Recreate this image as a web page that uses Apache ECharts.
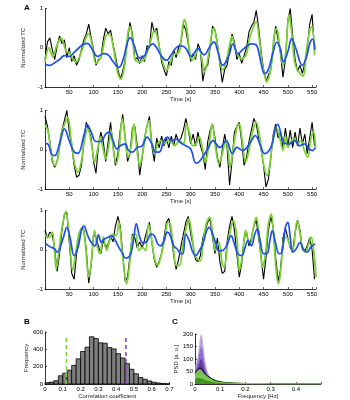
<!DOCTYPE html>
<html>
<head>
<meta charset="utf-8">
<script src="https://cdn.jsdelivr.net/npm/echarts@6/dist/echarts.min.js"></script>
<style>
html, body { margin: 0; padding: 0; background: #fff; }
#chart { width: 350px; height: 400px; }
</style>
</head>
<body>
<div id="chart"></div>
<script>
// ---- panel A: time courses (black = raw, green = filtered, blue = model) ----
var blackStep = 5;   // black traces sampled every 5 s from t = 0
var black1 = [-0.3,0.15,0.25,-0.05,-0.3,0.05,0.3,0.1,0.2,-0.25,0.0,-0.35,-0.2,-0.45,-0.3,-0.05,0.2,0.35,0.6,0.25,
  -0.05,-0.45,-0.3,-0.25,0.2,0.5,0.35,0.45,0.1,-0.2,-0.55,-0.8,-0.6,-0.3,0.2,0.65,0.35,-0.3,-0.25,-0.4,
  -0.2,-0.35,0.05,0.0,0.65,0.4,0.5,0.05,-0.35,-0.55,-0.72,-0.35,-0.45,-0.05,-0.25,0.0,0.15,0.6,0.45,0.1,
  -0.35,-0.15,-0.3,0.1,-0.05,-0.85,-0.5,-0.45,0.0,0.55,0.45,0.1,-0.4,-0.88,-0.55,-0.45,-0.05,0.35,0.15,-0.3,
  -0.15,-0.4,-0.2,0.0,0.4,0.55,0.65,0.95,0.5,-0.1,-0.55,-0.85,-0.7,-0.55,0.05,0.55,0.2,-0.15,-0.75,-0.3,
  0.7,1.0,0.3,-0.3,-0.6,-0.45,-0.65,-0.4,0.0,0.6,0.85,-0.1];
var green1 = [[0,-0.36],[8,0.0],[16,-0.23],[24,0.05],[33,0.25],[44,-0.1],[50,-0.12],[57,-0.28],[64,-0.36],[75,-0.1],
  [85,0.28],[90,0.36],[97,0.06],[105,-0.4],[116,-0.2],[126,0.32],[133,0.34],[141,-0.02],[150,-0.66],[156,-0.8],
  [164,-0.45],[171,0.4],[175,0.53],[181,0.15],[186,-0.32],[195,-0.36],[205,-0.28],[215,0.06],[226,0.45],[232,0.23],
  [239,-0.2],[250,-0.57],[256,-0.45],[263,-0.2],[270,-0.15],[277,-0.1],[282,0.4],[287,0.72],[291,0.57],[298,-0.1],
  [303,-0.32],[308,-0.25],[315,-0.02],[320,-0.1],[329,-0.62],[335,-0.3],[342,0.23],[347,0.49],[352,0.32],[359,-0.28],
  [366,-0.57],[373,-0.36],[380,0.06],[385,0.29],[390,0.06],[397,-0.19],[404,-0.28],[414,-0.19],[421,0.23],[428,0.49],
  [435,0.66],[441,0.23],[448,-0.45],[457,-0.87],[466,-0.45],[472,0.32],[477,0.49],[483,0.06],[490,-0.45],[496,-0.1],
  [502,0.83],[507,0.49],[514,-0.36],[520,-0.57],[531,-0.72],[538,-0.1],[546,0.49],[550,0.53],[555,-0.19]];
var blue1 = [[0,-0.42],[10,-0.45],[20,-0.38],[30,-0.3],[40,-0.2],[50,-0.22],[60,-0.12],[70,0.0],[80,0.1],[88,0.11],
  [95,0.0],[109,-0.22],[120,-0.15],[130,-0.18],[140,-0.35],[152,-0.5],[162,-0.25],[170,0.15],[176,0.26],[183,0.08],
  [195,-0.26],[205,-0.2],[213,0.0],[222,0.1],[230,0.0],[240,-0.22],[250,-0.32],[260,-0.18],[270,0.0],[278,0.05],
  [285,0.04],[292,-0.06],[300,-0.22],[308,-0.12],[315,-0.02],[322,-0.12],[328,-0.18],[338,0.0],[348,0.15],[356,-0.1],
  [366,-0.45],[378,-0.22],[387,0.1],[397,-0.15],[407,-0.05],[417,0.05],[425,0.1],[435,0.07],[445,-0.4],[452,-0.66],
  [460,-0.55],[470,-0.1],[477,0.14],[484,0.0],[491,-0.36],[500,-0.1],[508,0.23],[516,0.0],[530,-0.45],[538,-0.25],
  [545,0.1],[551,0.22],[556,-0.05]];

var black2 = [0.85,0.6,0.2,-0.3,-0.45,-0.3,0.1,0.5,0.75,1.0,0.45,0.1,-0.4,-0.7,-0.65,-0.4,0.2,0.7,0.5,0.3,
  -0.3,-0.6,0.1,0.45,0.2,-0.3,0.2,0.7,0.1,-0.4,-0.1,0.5,0.9,0.3,-0.3,-0.1,0.55,0.6,0.1,-0.65,
  -0.2,0.3,0.6,0.85,0.1,-0.3,0.3,0.05,0.35,0.1,0.3,0.05,0.35,0.1,0.4,0.2,0.3,0.5,0.8,0.5,
  0.15,0.4,0.1,0.45,0.1,-0.1,-0.5,0.2,0.5,0.65,0.3,-0.2,-0.45,0.0,0.4,0.05,-0.9,-0.3,0.45,0.6,
  0.7,0.2,-0.4,-0.2,0.2,0.5,0.8,0.65,0.3,0.0,-0.4,-0.95,-0.75,-0.2,0.4,0.65,0.3,0.45,0.05,0.55,
  0.1,0.5,0.05,0.45,0.1,0.55,0.15,0.4,-0.1,0.3,0.7,0.1];
var green2 = [[0,0.62],[6,0.49],[13,-0.1],[20,-0.4],[27,-0.19],[33,0.4],[42,0.7],[47,0.83],[54,0.23],[61,-0.36],
  [68,-0.57],[75,-0.28],[81,0.23],[88,0.53],[97,0.06],[102,-0.32],[109,0.06],[114,0.32],[119,0.06],[125,-0.23],
  [132,0.15],[136,0.49],[141,-0.02],[147,-0.36],[153,0.06],[159,0.79],[165,0.32],[171,-0.19],[177,0.06],[183,0.66],
  [188,0.15],[195,-0.4],[202,-0.02],[208,0.49],[214,0.74],[219,0.23],[226,-0.1],[232,0.15],[239,0.23],[246,0.15],
  [253,0.23],[260,0.2],[267,0.1],[274,0.19],[280,0.2],[286,0.15],[291,0.66],[298,0.4],[304,0.1],[311,0.15],
  [318,0.32],[325,-0.02],[330,-0.32],[339,0.23],[344,0.66],[351,0.06],[358,-0.36],[365,-0.1],[372,0.23],[377,-0.02],
  [381,-0.45],[388,0.06],[395,0.57],[400,0.66],[406,0.23],[413,-0.32],[420,-0.02],[426,0.4],[435,0.7],[441,0.4],
  [450,-0.36],[457,-0.66],[462,-0.45],[469,0.23],[476,0.57],[483,0.32],[490,-0.02],[495,0.36],[500,0.06],[507,0.23],
  [514,0.28],[520,0.15],[527,0.23],[534,-0.02],[541,-0.19],[548,0.32],[553,0.45],[557,0.06]];
var blue2 = [[0,0.17],[7,0.13],[13,-0.1],[20,-0.15],[30,0.15],[40,0.53],[50,0.23],[60,-0.06],[68,-0.09],[80,0.36],
  [87,0.64],[95,0.45],[105,0.21],[115,0.21],[125,0.4],[132,0.45],[140,0.23],[148,0.02],[155,0.1],[165,0.15],
  [172,-0.02],[180,-0.06],[190,0.06],[200,0.1],[210,0.32],[220,0.15],[228,-0.06],[235,-0.06],[245,0.23],[252,0.32],
  [260,0.23],[270,0.27],[280,0.17],[290,0.1],[300,0.02],[311,-0.34],[318,-0.3],[335,0.02],[346,0.23],[360,0.06],
  [373,0.23],[386,-0.1],[395,0.06],[407,-0.02],[421,0.15],[433,0.36],[444,0.1],[452,-0.1],[465,0.06],[479,0.65],
  [493,0.17],[503,0.15],[514,0.23],[524,0.1],[534,0.15],[544,0.02],[551,-0.02],[557,0.06]];

var black3 = [0.5,0.3,0.45,0.4,0.0,-0.55,-0.1,0.5,0.9,0.95,0.2,-0.6,-0.75,-0.1,0.4,0.55,0.5,0.0,-0.85,-0.4,
  0.4,0.3,0.1,-0.1,0.25,0.05,0.15,0.35,0.2,0.6,0.85,0.6,-0.1,-0.8,-0.7,-0.15,0.4,0.3,0.05,0.2,
  0.05,0.25,0.5,0.7,0.2,-0.25,-0.45,-0.3,-0.1,0.3,0.7,0.8,0.4,-0.15,-0.5,-0.25,0.1,0.4,0.7,0.85,
  0.4,0.1,-0.25,-0.3,-0.15,0.3,0.5,0.7,0.8,0.3,-0.1,0.3,-0.3,-0.6,-0.55,0.2,0.6,0.85,0.5,-0.1,
  -0.7,-0.35,0.3,0.45,0.1,0.3,0.6,0.75,0.3,-0.2,-0.75,-0.2,0.5,0.85,0.55,-0.2,-0.8,-0.5,0.3,0.55,
  0.3,0.05,-0.05,0.45,0.75,0.5,0.0,-0.05,0.1,0.3,0.0,-0.75];
var green3 = [[0,0.4],[5,0.32],[10,0.32],[15,0.45],[20,-0.1],[23,-0.49],[28,-0.1],[35,0.57],[43,0.98],[50,0.32],
  [57,-0.53],[63,-0.1],[70,0.4],[77,0.57],[83,0.15],[90,-0.7],[95,-0.36],[102,0.49],[108,0.06],[113,-0.1],
  [120,0.32],[127,-0.02],[133,0.23],[140,0.4],[147,0.36],[152,0.7],[158,0.06],[163,-0.53],[168,-0.87],[175,-0.28],
  [180,0.32],[187,0.4],[193,-0.02],[200,0.06],[207,-0.02],[213,0.66],[220,0.23],[225,-0.19],[232,-0.4],[240,-0.1],
  [247,0.32],[253,0.7],[258,0.66],[265,-0.02],[270,-0.4],[277,-0.4],[284,0.15],[291,0.57],[296,0.79],[303,0.32],
  [308,-0.1],[313,-0.23],[320,-0.28],[326,0.23],[332,0.66],[339,0.83],[346,0.32],[351,-0.02],[358,0.19],[365,-0.36],
  [369,-0.45],[376,0.15],[383,0.57],[388,0.74],[395,0.32],[400,-0.53],[407,-0.1],[413,0.49],[418,0.23],[423,0.15],
  [428,0.49],[435,0.83],[441,0.32],[448,-0.45],[454,-0.1],[460,0.66],[466,0.91],[471,0.32],[476,-0.53],[481,-0.87],
  [486,-0.45],[491,0.23],[497,0.32],[503,0.15],[510,-0.02],[519,0.74],[524,0.49],[530,0.06],[536,-0.06],[543,0.15],
  [548,0.32],[554,-0.1],[558,-0.7]];
var blue3 = [[0,0.17],[10,0.08],[20,0.02],[25,-0.06],[30,0.02],[38,0.32],[45,0.57],[52,0.28],[60,-0.15],[68,0.06],
  [75,0.49],[80,0.6],[88,0.36],[95,0.19],[103,0.1],[110,0.38],[116,0.19],[123,0.28],[130,0.32],[137,0.36],
  [145,0.23],[152,0.06],[160,-0.1],[165,-0.21],[175,-0.15],[182,0.23],[188,0.66],[195,0.32],[202,0.17],[210,0.22],
  [218,0.4],[225,0.36],[232,0.15],[238,0.1],[245,0.23],[252,0.45],[258,0.36],[265,0.1],[272,0.02],[280,-0.1],
  [284,-0.1],[290,0.4],[297,0.23],[303,-0.02],[310,-0.15],[318,-0.02],[325,0.15],[333,0.49],[338,0.57],[345,0.4],
  [352,0.15],[358,-0.02],[365,-0.02],[372,0.06],[378,0.23],[383,0.36],[390,0.15],[397,-0.1],[405,-0.15],[412,0.06],
  [418,0.23],[425,0.1],[432,0.4],[437,0.53],[443,0.23],[450,-0.1],[457,-0.1],[463,0.23],[468,0.49],[475,0.15],
  [482,-0.1],[488,-0.06],[495,0.57],[500,0.7],[505,0.32],[510,-0.06],[517,0.02],[525,0.19],[532,0.02],[540,-0.06],
  [547,0.06],[556,0.15]];

// ---- panel B: histogram of correlation coefficients ----
var binWidth = 0.025;   // bins start at 0
var binCounts = [15,22,38,95,125,160,215,290,375,425,545,525,475,470,420,405,350,300,235,170,
  118,75,55,35,20,12,6,3];
var greenCut = 0.12;
var purpleCut = 0.455;
var cutHeight = 540;

// ---- panel C: power spectra ----
var psdFreq = [0,0.005,0.01,0.015,0.02,0.025,0.03,0.035,0.04,0.05,0.06,0.07,0.08,0.1,0.12,0.15,0.2,0.25,0.3,0.4,0.5];
var psdPurpleHi = [70,85,105,140,185,200,180,140,95,48,30,19,13,8,5,3,2,1.5,1,0.5,0.3];
var psdPurpleMid = [55,68,85,110,140,150,135,100,70,38,23,15,10,6,4,3,1.5,1,0.7,0.4,0.2];
var psdPurpleLo = [45,52,62,78,95,100,90,70,50,28,17,11,7,4,3,2,1,0.7,0.5,0.3,0.2];
var psdGreenHi = [45,50,55,58,58,55,50,45,40,32,26,21,17,11,8,5,3,2,1.5,1,0.8];
var psdGreenLo = [20,22,24,24,23,22,20,18,16,13,11,9,7,5,3.5,2.5,1.5,1,0.8,0.5,0.3];
var psdBlack = [42,50,57,62,64,62,55,47,40,32,25,19,14,9,6,4,2,1.5,1,0.7,0.5];
var psdGreen = [28,30,32,33,32,30,27,24,21,17,14,11,9,6,4,3,2,1.5,1,0.7,0.5];

var FONT = 'Liberation Sans';
var GREEN = '#7bd232';
var BLUE = '#1f4ff2';

function withTime(vals) {
    var out = [];
    for (var i = 0; i < vals.length; i++) out.push([i * blackStep, vals[i]]);
    return out;
}
function zip(xs, ys) {
    var out = [];
    for (var i = 0; i < xs.length; i++) out.push([xs[i], ys[i]]);
    return out;
}

function baseAxis(extra) {
    var a = {
        type: 'value',
        axisLine: { show: true, onZero: false, lineStyle: { color: '#000', width: 0.8 } },
        axisTick: { show: true, inside: true, length: 2, lineStyle: { color: '#000', width: 0.6 } },
        splitLine: { show: false },
        axisLabel: { fontSize: 6, color: '#000', margin: 2, fontFamily: FONT },
        nameTextStyle: { fontSize: 6, color: '#222', fontFamily: FONT },
        nameLocation: 'middle'
    };
    for (var k in extra) a[k] = extra[k];
    return a;
}

var tops = [8.5, 110.5, 210.5];
var grids = [], xAxes = [], yAxes = [], series = [];
var blacks = [black1, black2, black3], greens = [green1, green2, green3], blues = [blue1, blue2, blue3];

for (var p = 0; p < 3; p++) {
    grids.push({ left: 45, top: tops[p], width: 271, height: 78.5 });
    xAxes.push(baseAxis({
        gridIndex: p, min: 0, max: 558, interval: 50, name: 'Time [s]', nameGap: 8,
        axisLabel: { fontSize: 6, color: '#000', margin: 2, fontFamily: FONT,
            formatter: function (v) { return (v > 0 && v % 50 === 0) ? String(v) : ''; } }
    }));
    yAxes.push(baseAxis({ gridIndex: p, min: -1, max: 1, interval: 1, name: 'Normalized TC', nameGap: 8 }));
    series.push({ type: 'line', xAxisIndex: p, yAxisIndex: p, data: withTime(blacks[p]), showSymbol: false,
        lineStyle: { color: '#000', width: 1.1 }, silent: true, z: 2 });
    series.push({ type: 'line', xAxisIndex: p, yAxisIndex: p, data: greens[p], showSymbol: false, smooth: 0.35,
        lineStyle: { color: GREEN, width: 1.8 }, silent: true, z: 3 });
    series.push({ type: 'line', xAxisIndex: p, yAxisIndex: p, data: blues[p], showSymbol: false, smooth: 0.4,
        lineStyle: { color: BLUE, width: 1.7 }, silent: true, z: 4 });
}

// B
grids.push({ left: 45, top: 332, width: 124.5, height: 53 });
xAxes.push(baseAxis({ gridIndex: 3, min: 0, max: 0.7, interval: 0.1, name: 'Correlation coefficient', nameGap: 9 }));
yAxes.push(baseAxis({ gridIndex: 3, min: 0, max: 600, interval: 200, name: 'Frequency', nameGap: 13 }));
var histData = [];
for (var i = 0; i < binCounts.length; i++) histData.push([i * binWidth, (i + 1) * binWidth, binCounts[i]]);
series.push({
    type: 'custom', xAxisIndex: 3, yAxisIndex: 3, data: histData, silent: true,
    renderItem: function (params, api) {
        var a = api.coord([api.value(0), api.value(2)]);
        var b = api.coord([api.value(1), 0]);
        return { type: 'rect', shape: { x: a[0], y: a[1], width: b[0] - a[0], height: b[1] - a[1] },
            style: { fill: '#7f7f7f', stroke: '#000', lineWidth: 0.8 } };
    }
});
series.push({ type: 'line', xAxisIndex: 3, yAxisIndex: 3, data: [[greenCut, 0], [greenCut, cutHeight]], showSymbol: false,
    lineStyle: { color: GREEN, width: 1.5, type: [4, 3] }, silent: true, z: 5 });
series.push({ type: 'line', xAxisIndex: 3, yAxisIndex: 3, data: [[purpleCut, 0], [purpleCut, cutHeight]], showSymbol: false,
    lineStyle: { color: '#7b3fc4', width: 1.5, type: [4, 3] }, silent: true, z: 5 });

// C
grids.push({ left: 195, top: 334, width: 126, height: 50 });
xAxes.push(baseAxis({
    gridIndex: 4, min: 0, max: 0.5, interval: 0.1, name: 'Frequency [Hz]', nameGap: 9,
    axisLabel: { fontSize: 6, color: '#000', margin: 2, fontFamily: FONT,
        formatter: function (v) { return v < 0.45 ? String(Math.round(v * 10) / 10) : ''; } }
}));
yAxes.push(baseAxis({ gridIndex: 4, min: 0, max: 200, interval: 50, name: 'PSD [a. u.]', nameGap: 12 }));
var psdLayers = [
    [psdPurpleHi, 'rgba(178,150,218,0.85)'],
    [psdPurpleMid, 'rgba(140,100,200,0.85)'],
    [psdPurpleLo, 'rgba(95,55,150,0.9)'],
    [psdGreenHi, 'rgba(125,205,85,0.9)'],
    [psdGreenLo, 'rgba(62,145,32,0.95)']
];
psdLayers.forEach(function (l, k) {
    series.push({ type: 'line', xAxisIndex: 4, yAxisIndex: 4, data: zip(psdFreq, l[0]), showSymbol: false, smooth: 0.3,
        lineStyle: { width: 0 }, areaStyle: { color: l[1], opacity: 1 }, silent: true, z: 2 + k });
});
series.push({ type: 'line', xAxisIndex: 4, yAxisIndex: 4, data: zip(psdFreq, psdBlack), showSymbol: false, smooth: 0.3,
    lineStyle: { color: '#000', width: 1 }, silent: true, z: 9 });
series.push({ type: 'line', xAxisIndex: 4, yAxisIndex: 4, data: zip(psdFreq, psdGreen), showSymbol: false, smooth: 0.3,
    lineStyle: { color: GREEN, width: 1.2 }, silent: true, z: 10 });

var chart = echarts.init(document.getElementById('chart'), null, { renderer: 'canvas' });
chart.setOption({
    animation: false,
    backgroundColor: '#fff',
    textStyle: { fontFamily: FONT },
    grid: grids,
    xAxis: xAxes,
    yAxis: yAxes,
    series: series,
    graphic: [
        { type: 'text', left: 24, top: 4, style: { text: 'A', fontSize: 8, fontWeight: 'bold', fill: '#000', fontFamily: FONT } },
        { type: 'text', left: 24, top: 318, style: { text: 'B', fontSize: 8, fontWeight: 'bold', fill: '#000', fontFamily: FONT } },
        { type: 'text', left: 172, top: 318, style: { text: 'C', fontSize: 8, fontWeight: 'bold', fill: '#000', fontFamily: FONT } }
    ]
});
</script>
</body>
</html>
